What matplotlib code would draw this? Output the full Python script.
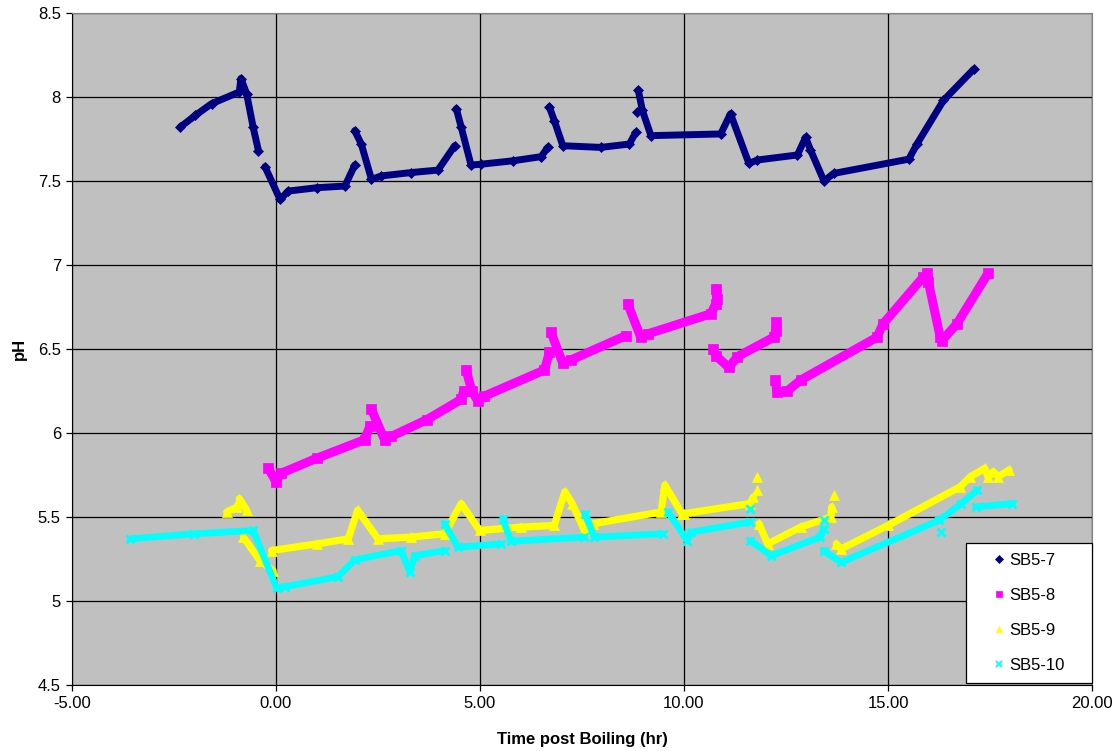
import numpy as np
from matplotlib import pyplot as plt
from matplotlib.lines import Line2D
import matplotlib.ticker as plticker

nan = np.nan

# SB5-7 probe, time (hr) and pH, nan marks a break in the logged trace
sb57_t = [-2.35, -1.98, -1.58, -0.90, -0.86, -0.72, -0.56, -0.43, nan,
          -0.27, 0.10, 0.30, 1.00, 1.69, 1.93, nan,
          1.93, 2.09, 2.34, 2.58, 3.30, 3.97, 4.38, nan,
          4.42, 4.54, 4.78, 5.03, 5.80, 6.50, 6.66, nan,
          6.70, 6.82, 7.03, 7.96, 8.66, 8.82, nan, 8.84, nan,
          8.88, 8.98, 9.19, 10.90, 11.14, 11.59, 11.80, 12.78, 12.98, 13.10, 13.43,
          13.67, 15.51, 15.71, 16.36, 17.10]
sb57_ph = [7.82, 7.89, 7.96, 8.03, 8.11, 8.02, 7.82, 7.68, nan,
           7.585, 7.39, 7.44, 7.46, 7.47, 7.595, nan,
           7.80, 7.72, 7.51, 7.53, 7.55, 7.565, 7.71, nan,
           7.93, 7.82, 7.595, 7.60, 7.62, 7.645, 7.70, nan,
           7.94, 7.86, 7.71, 7.70, 7.72, 7.79, nan, 7.91, nan,
           8.04, 7.92, 7.77, 7.78, 7.90, 7.605, 7.625, 7.655, 7.76, 7.685, 7.50,
           7.545, 7.63, 7.72, 7.98, 8.165]

# SB5-8
sb58_t = [-0.19, 0.00, 0.12, 1.00, 2.17, 2.30, nan,
          2.34, 2.66, 2.83, 3.70, 4.54, 4.60, nan,
          4.66, 4.80, 4.95, 5.11, 6.58, 6.70, nan,
          6.74, 7.03, 7.23, 8.58, nan,
          8.62, 8.94, 9.11, 10.66, 10.78, nan, 10.78, 10.80, nan,
          10.72, 10.78, 11.10, 11.31, 12.20, 12.25, nan, 12.25, nan,
          12.24, 12.28, 12.53, 12.86, 14.73, 14.88, 15.87, 15.96, nan,
          15.99, 16.28, 16.32, 16.69, 17.45]
sb58_ph = [5.79, 5.71, 5.76, 5.85, 5.96, 6.04, nan,
           6.14, 5.96, 5.98, 6.08, 6.20, 6.25, nan,
           6.375, 6.25, 6.19, 6.22, 6.375, 6.48, nan,
           6.60, 6.415, 6.435, 6.58, nan,
           6.77, 6.57, 6.59, 6.71, 6.77, nan, 6.86, 6.80, nan,
           6.50, 6.46, 6.39, 6.455, 6.57, 6.61, nan, 6.66, nan,
           6.315, 6.245, 6.25, 6.315, 6.57, 6.65, 6.93, 6.955, nan,
           6.90, 6.57, 6.55, 6.65, 6.95]

# SB5-9
sb59_t = [-1.21, -0.95, nan, -0.90, -0.72, nan,
          -0.80, -0.39, -0.07, nan,
          -0.11, 1.00, 1.77, 2.00, 2.50, 3.30, 4.13, 4.54, 4.99, 6.00, 6.82,
          7.08, 7.26, 7.56, 7.77, 9.44, 9.53, 9.95, 10.00, 11.62, 11.70, nan,
          11.79, nan, 11.80, nan,
          11.84, 12.05, 12.86, 13.60, 13.62, nan, 13.68, nan,
          13.73, 13.85, 15.00, 16.77, 17.02, 17.37, 17.45, 17.58, 17.70, 17.97]
sb59_ph = [5.53, 5.56, nan, 5.61, 5.54, nan,
           5.38, 5.24, 5.18, nan,
           5.30, 5.34, 5.37, 5.54, 5.37, 5.38, 5.40, 5.58, 5.42, 5.44, 5.45,
           5.65, 5.58, 5.42, 5.46, 5.53, 5.69, 5.52, 5.52, 5.58, 5.62, nan,
           5.66, nan, 5.74, nan,
           5.46, 5.34, 5.44, 5.50, 5.56, nan, 5.63, nan,
           5.34, 5.31, 5.45, 5.68, 5.74, 5.79, 5.74, 5.77, 5.74, 5.78]

# SB5-10
sb510_t = [-3.57, -2.00, -0.56, 0.02, 0.22, 1.52, 1.93, 3.07, 3.28, 3.40, 4.13, nan,
           4.13, 4.46, 5.52, nan,
           5.56, 5.76, 7.56, nan,
           7.58, 7.80, 9.48, nan,
           9.61, 10.08, 10.17, 11.62, nan, 11.62, nan,
           11.62, 12.14, 13.34, 13.42, nan, 13.42, nan,
           13.42, 13.85, 16.25, 16.80, 17.19, nan, 16.30, nan,
           17.15, 18.05]
sb510_ph = [5.37, 5.40, 5.42, 5.075, 5.085, 5.145, 5.245, 5.30, 5.17, 5.27, 5.30, nan,
            5.46, 5.32, 5.34, nan,
            5.49, 5.355, 5.38, nan,
            5.52, 5.38, 5.40, nan,
            5.53, 5.36, 5.41, 5.47, nan, 5.55, nan,
            5.36, 5.27, 5.38, 5.43, nan, 5.48, nan,
            5.30, 5.23, 5.48, 5.58, 5.66, nan, 5.41, nan,
            5.56, 5.58]

names = ["SB5-7", "SB5-8", "SB5-9", "SB5-10"]
colors = ["#000080", "#FF00FF", "#FFFF00", "#00FFFF"]
markers = ["D", "s", "^", "x"]

plt.rcParams['font.family'] = ["Liberation Sans", "DejaVu Sans"]

fig = plt.figure(figsize=(11.17, 7.51), dpi=100)
ax = fig.add_axes([72/1117, 66/751, 1020/1117, 672/751])
ax.set_facecolor("#C0C0C0")

series = [(sb57_t, sb57_ph), (sb58_t, sb58_ph), (sb59_t, sb59_ph), (sb510_t, sb510_ph)]
widths = [5.0, 6.5, 5.2, 4.8]
msizes = [5.5, 6.5, 7.0, 6.0]
for (t, ph), c, m, w, s in zip(series, colors, markers, widths, msizes):
    ax.plot(t, ph, "-", color=c, lw=w, solid_capstyle="round", solid_joinstyle="round",
            marker=m, ms=s, mec=c, mfc=c, mew=2.0 if m == "x" else 0.5)

ax.set_xlim(-5, 20)
ax.set_ylim(4.5, 8.5)
ax.xaxis.set_major_locator(plticker.MultipleLocator(5))
ax.yaxis.set_major_locator(plticker.MultipleLocator(0.5))
ax.xaxis.set_major_formatter(plticker.FormatStrFormatter("%.2f"))
ax.yaxis.set_major_formatter(plticker.FormatStrFormatter("%g"))
ax.grid(True, color="black", lw=0.9)
ax.set_axisbelow(True)
ax.tick_params(direction="out", length=4.5, width=0.9, labelsize=12, pad=3.5)
for side in ["top", "right"]:
    ax.spines[side].set_color("#808080")
for side in ["left", "bottom"]:
    ax.spines[side].set_color("black")

ax.set_xlabel("Time post Boiling (hr)", fontsize=12, fontweight="bold", labelpad=15)
ax.set_ylabel("pH", fontsize=12, fontweight="bold", labelpad=8)

# legend only shows the marker of each series, like the spreadsheet chart
handles = [Line2D([], [], ls="none", marker=m, color=c, ms=4.5 if m != "D" else 4,
                  mew=1.3 if m == "x" else 0.5)
           for m, c in zip(markers, colors)]
leg = ax.legend(handles, names, loc="lower left", mode="expand",
                bbox_to_anchor=((966 - 72) / 1020, 0.003, 126 / 1020, 0.2), borderaxespad=0,
                fancybox=False, framealpha=1, edgecolor="black", fontsize=12,
                labelspacing=1.2, borderpad=0.6, handlelength=2.8, handletextpad=-0.83)
leg.get_frame().set_linewidth(0.9)

fig.savefig("out.png", dpi=100)
